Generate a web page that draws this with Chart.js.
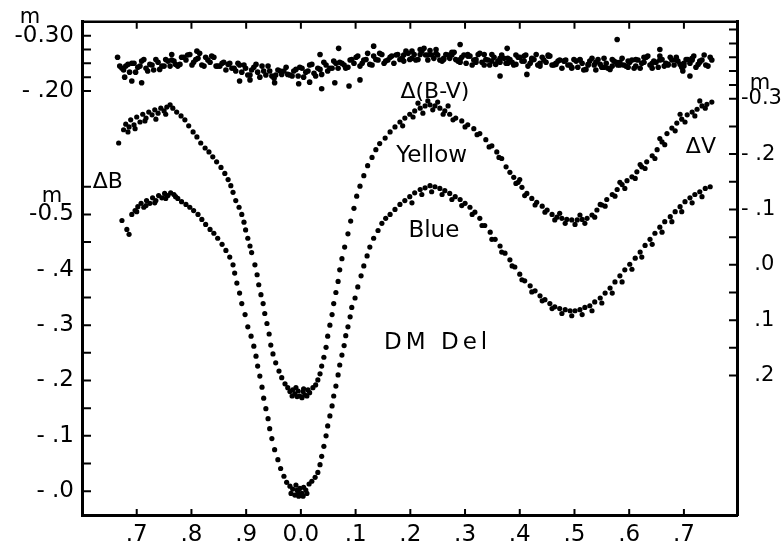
<!DOCTYPE html>
<html>
<head>
<meta charset="utf-8">
<title>DM Del</title>
<script src="https://cdn.jsdelivr.net/npm/chart.js@4.4.0/dist/chart.umd.min.js"></script>
<style>
  html, body { margin: 0; padding: 0; background: #fff; }
  #wrap { width: 783px; height: 550px; position: relative; }
</style>
</head>
<body>
<div id="wrap"><canvas id="lc"></canvas></div>
<script>
const FONT = "'DejaVu Sans', 'Liberation Sans', sans-serif";

// phase axis (values below 0 are labelled .7 .8 .9)
const phaseRange = [-0.4, 0.797];
const phaseTicks = [-0.3, -0.2, -0.1, 0, 0.1, 0.2, 0.3, 0.4, 0.5, 0.6, 0.7];
const phaseLabels = ['.7', '.8', '.9', '0.0', '.1', '.2', '.3', '.4', '.5', '.6', '.7'];

// left axis : delta B
const bRange = [-0.848, 0.043];
const bTicks = [0, -0.05, -0.1, -0.15, -0.2, -0.25, -0.3, -0.35, -0.4, -0.45, -0.5, -0.55];
const bLabels = ['- .0', '', '- .1', '', '- .2', '', '- .3', '', '- .4', '', '-0.5', ''];

// delta (B-V), ticks shown on the upper part of the left axis
const bvRange = [-0.325, 0.566];
const bvTicks = [-0.30, -0.275, -0.25, -0.225, -0.20];
const bvLabels = ['-0.30', '', '', '', '- .20'];

// right axis : delta V
const vRange = [-0.439, 0.452];
const vTicks = [-0.425, -0.4, -0.375, -0.35, -0.325, -0.3, -0.25, -0.2, -0.15, -0.1, -0.05, 0, 0.05, 0.1, 0.15, 0.2];
const vLabels = ['', '', '', '', '', '-0.3', '', '- .2', '', '- .1', '', '  .0', '', '  .1', '', '  .2'];

// [phase, delta V]
const yellowPoints = [
  [-0.333,-0.220],[-0.324,-0.244],[-0.320,-0.254],[-0.314,-0.249],[-0.311,-0.262],[-0.305,-0.253],[-0.300,-0.267],[-0.294,-0.258],
  [-0.289,-0.272],[-0.283,-0.265],[-0.278,-0.276],[-0.272,-0.271],[-0.267,-0.280],[-0.261,-0.274],[-0.256,-0.283],[-0.250,-0.278],
  [-0.245,-0.285],[-0.239,-0.289],[-0.234,-0.283],[-0.227,-0.276],[-0.219,-0.269],[-0.212,-0.262],[-0.205,-0.251],[-0.197,-0.240],
  [-0.190,-0.231],[-0.183,-0.220],[-0.175,-0.211],[-0.168,-0.204],[-0.161,-0.195],[-0.154,-0.186],[-0.146,-0.176],[-0.139,-0.165],
  [-0.133,-0.154],[-0.128,-0.143],[-0.124,-0.131],[-0.119,-0.116],[-0.113,-0.104],[-0.108,-0.091],[-0.104,-0.077],[-0.101,-0.063],
  [-0.097,-0.048],[-0.093,-0.034],[-0.090,-0.022],[-0.084,0.000],[-0.080,0.018],[-0.077,0.036],[-0.073,0.054],[-0.069,0.070],
  [-0.066,0.088],[-0.062,0.106],[-0.058,0.125],[-0.055,0.145],[-0.051,0.161],[-0.046,0.177],[-0.040,0.192],[-0.035,0.204],
  [-0.029,0.215],[-0.024,0.222],[-0.020,0.229],[-0.015,0.226],[-0.011,0.233],[-0.005,0.228],[-0.002,0.237],[0.004,0.229],
  [0.007,0.235],[0.013,0.226],[0.016,0.231],[0.022,0.222],[0.027,0.217],[0.031,0.208],[0.035,0.197],[0.038,0.183],
  [0.042,0.167],[0.046,0.149],[0.049,0.129],[0.053,0.109],[0.057,0.090],[0.060,0.070],[0.064,0.050],[0.068,0.030],
  [0.071,0.009],[0.075,-0.011],[0.080,-0.032],[0.086,-0.056],[0.091,-0.079],[0.097,-0.102],[0.102,-0.124],[0.108,-0.142],
  [0.115,-0.161],[0.122,-0.179],[0.130,-0.194],[0.137,-0.208],[0.144,-0.219],[0.154,-0.229],[0.163,-0.240],[0.172,-0.249],
  [0.181,-0.258],[0.190,-0.265],[0.199,-0.272],[0.208,-0.278],[0.218,-0.283],[0.227,-0.287],[0.236,-0.289],[0.245,-0.287],
  [0.254,-0.283],[0.263,-0.278],[0.272,-0.272],[0.283,-0.265],[0.294,-0.260],[0.305,-0.253],[0.316,-0.246],[0.327,-0.237],
  [0.338,-0.226],[0.349,-0.215],[0.358,-0.204],[0.367,-0.192],[0.375,-0.177],[0.382,-0.167],[0.389,-0.158],[0.397,-0.149],
  [0.404,-0.140],[0.413,-0.129],[0.422,-0.120],[0.431,-0.113],[0.441,-0.106],[0.450,-0.099],[0.459,-0.091],[0.468,-0.086],
  [0.477,-0.084],[0.486,-0.082],[0.495,-0.081],[0.505,-0.081],[0.514,-0.082],[0.523,-0.084],[0.532,-0.090],[0.541,-0.099],
  [0.550,-0.108],[0.559,-0.118],[0.569,-0.127],[0.578,-0.136],[0.587,-0.145],[0.596,-0.152],[0.605,-0.159],[0.614,-0.168],
  [0.623,-0.177],[0.632,-0.186],[0.642,-0.197],[0.651,-0.208],[0.660,-0.222],[0.669,-0.237],[0.678,-0.247],[0.687,-0.256],
  [0.696,-0.263],[0.706,-0.271],[0.715,-0.276],[0.724,-0.281],[0.733,-0.287],[0.742,-0.290],[0.751,-0.294],
  [0.186,-0.251],[0.205,-0.267],[0.223,-0.274],[0.241,-0.280],[0.260,-0.272],[0.278,-0.262],[0.300,-0.249],[0.322,-0.235],
  [0.344,-0.213],[0.362,-0.194],[0.393,-0.147],[0.409,-0.125],[0.428,-0.108],[0.446,-0.095],[0.464,-0.081],[0.483,-0.075],
  [0.501,-0.073],[0.519,-0.075],[0.537,-0.086],[0.556,-0.106],[0.574,-0.124],[0.592,-0.138],[0.611,-0.156],[0.629,-0.174],
  [0.647,-0.192],[0.665,-0.217],[0.684,-0.242],[0.702,-0.258],[0.720,-0.269],[0.739,-0.283],[0.214,-0.292],[0.232,-0.296],
  [0.250,-0.294],[0.269,-0.287],[0.400,-0.154],[0.473,-0.093],[0.510,-0.090],[0.547,-0.109],[0.583,-0.149],[0.620,-0.181],
  [0.656,-0.228],[0.693,-0.272],[0.729,-0.296],[-0.016,0.237],[-0.007,0.238],[0.002,0.240],[0.011,0.237],[-0.009,0.222],
  [0.005,0.224],[-0.316,-0.240],[-0.303,-0.246],[-0.285,-0.260],[-0.265,-0.263],[-0.247,-0.272]
];

// [phase, delta B]
const bluePoints = [
  [-0.327,-0.489],[-0.318,-0.473],[-0.314,-0.464],[-0.309,-0.500],[-0.303,-0.507],[-0.298,-0.514],[-0.292,-0.520],[-0.287,-0.513],
  [-0.282,-0.525],[-0.276,-0.520],[-0.271,-0.530],[-0.265,-0.525],[-0.260,-0.534],[-0.254,-0.530],[-0.249,-0.538],[-0.243,-0.534],
  [-0.238,-0.539],[-0.232,-0.536],[-0.225,-0.529],[-0.218,-0.523],[-0.210,-0.518],[-0.203,-0.513],[-0.196,-0.507],[-0.188,-0.500],
  [-0.181,-0.491],[-0.174,-0.482],[-0.166,-0.473],[-0.159,-0.466],[-0.152,-0.457],[-0.144,-0.446],[-0.137,-0.435],[-0.130,-0.423],
  [-0.124,-0.409],[-0.121,-0.394],[-0.117,-0.376],[-0.112,-0.358],[-0.108,-0.339],[-0.102,-0.319],[-0.097,-0.297],[-0.091,-0.280],
  [-0.086,-0.262],[-0.082,-0.244],[-0.079,-0.226],[-0.075,-0.208],[-0.071,-0.188],[-0.068,-0.168],[-0.064,-0.149],[-0.060,-0.131],
  [-0.057,-0.113],[-0.053,-0.095],[-0.048,-0.075],[-0.042,-0.057],[-0.037,-0.041],[-0.031,-0.027],[-0.026,-0.016],[-0.020,-0.009],
  [-0.015,-0.004],[-0.009,-0.011],[-0.005,0.002],[-0.002,-0.005],[0.002,0.004],[0.005,-0.007],[0.009,-0.002],[0.015,-0.013],
  [0.020,-0.018],[0.026,-0.025],[0.031,-0.034],[0.035,-0.048],[0.038,-0.063],[0.042,-0.081],[0.046,-0.100],[0.049,-0.118],
  [0.053,-0.136],[0.057,-0.154],[0.060,-0.172],[0.064,-0.190],[0.068,-0.210],[0.071,-0.228],[0.075,-0.246],[0.079,-0.263],
  [0.082,-0.281],[0.086,-0.297],[0.090,-0.315],[0.093,-0.332],[0.099,-0.349],[0.104,-0.369],[0.110,-0.389],[0.115,-0.407],
  [0.121,-0.425],[0.126,-0.441],[0.133,-0.457],[0.141,-0.471],[0.148,-0.484],[0.155,-0.493],[0.163,-0.500],[0.172,-0.509],
  [0.181,-0.518],[0.190,-0.525],[0.199,-0.532],[0.208,-0.539],[0.218,-0.545],[0.227,-0.548],[0.236,-0.552],[0.245,-0.550],
  [0.254,-0.547],[0.263,-0.543],[0.272,-0.538],[0.282,-0.532],[0.291,-0.527],[0.300,-0.520],[0.309,-0.513],[0.318,-0.504],
  [0.327,-0.493],[0.336,-0.480],[0.346,-0.468],[0.355,-0.455],[0.364,-0.443],[0.373,-0.430],[0.382,-0.418],[0.391,-0.405],
  [0.400,-0.392],[0.409,-0.380],[0.419,-0.371],[0.428,-0.362],[0.437,-0.353],[0.446,-0.346],[0.455,-0.339],[0.464,-0.333],
  [0.473,-0.330],[0.483,-0.328],[0.492,-0.326],[0.501,-0.326],[0.510,-0.328],[0.519,-0.332],[0.528,-0.335],[0.537,-0.342],
  [0.547,-0.349],[0.556,-0.358],[0.565,-0.367],[0.574,-0.378],[0.583,-0.389],[0.592,-0.400],[0.601,-0.410],[0.611,-0.421],
  [0.620,-0.432],[0.629,-0.444],[0.638,-0.455],[0.647,-0.466],[0.656,-0.477],[0.665,-0.487],[0.675,-0.496],[0.684,-0.505],
  [0.693,-0.514],[0.702,-0.523],[0.711,-0.530],[0.720,-0.536],[0.729,-0.541],[0.739,-0.547],[0.748,-0.550],
  [0.203,-0.521],[0.221,-0.536],[0.239,-0.541],[0.258,-0.536],[0.276,-0.527],[0.294,-0.516],[0.313,-0.500],[0.331,-0.480],
  [0.349,-0.455],[0.367,-0.432],[0.386,-0.407],[0.404,-0.382],[0.422,-0.360],[0.441,-0.344],[0.459,-0.330],[0.477,-0.321],
  [0.495,-0.317],[0.514,-0.319],[0.532,-0.326],[0.550,-0.340],[0.569,-0.358],[0.587,-0.378],[0.605,-0.401],[0.623,-0.423],
  [0.642,-0.446],[0.660,-0.468],[0.678,-0.487],[0.696,-0.505],[0.715,-0.521],[0.733,-0.532],[-0.018,0.004],[-0.011,0.007],
  [-0.004,0.009],[0.004,0.009],[0.011,0.004],[-0.007,-0.002],[-0.300,-0.505],[-0.283,-0.516],[-0.267,-0.521],[-0.247,-0.529],
  [-0.229,-0.532]
];

// [phase, delta (B-V)]
const bvPoints = [
  [-0.335,-0.261],[-0.327,-0.241],[-0.320,-0.245],[-0.313,-0.234],[-0.305,-0.250],[-0.298,-0.243],[-0.291,-0.254],[-0.283,-0.241],
  [-0.276,-0.248],[-0.269,-0.238],[-0.261,-0.252],[-0.254,-0.245],[-0.247,-0.257],[-0.239,-0.245],[-0.232,-0.254],[-0.225,-0.245],
  [-0.218,-0.261],[-0.210,-0.256],[-0.203,-0.266],[-0.196,-0.252],[-0.188,-0.259],[-0.181,-0.247],[-0.174,-0.261],[-0.166,-0.252],
  [-0.159,-0.261],[-0.152,-0.245],[-0.144,-0.250],[-0.137,-0.238],[-0.130,-0.250],[-0.122,-0.241],[-0.115,-0.250],[-0.108,-0.234],
  [-0.101,-0.241],[-0.093,-0.229],[-0.086,-0.243],[-0.079,-0.234],[-0.071,-0.245],[-0.064,-0.229],[-0.057,-0.236],[-0.049,-0.223],
  [-0.042,-0.238],[-0.035,-0.230],[-0.027,-0.243],[-0.020,-0.229],[-0.013,-0.236],[-0.005,-0.227],[0.002,-0.241],[0.009,-0.234],
  [0.016,-0.247],[0.024,-0.232],[0.031,-0.241],[0.038,-0.230],[0.046,-0.247],[0.053,-0.241],[0.060,-0.254],[0.068,-0.241],
  [0.075,-0.250],[0.082,-0.241],[0.090,-0.256],[0.097,-0.250],[0.104,-0.263],[0.112,-0.250],[0.119,-0.257],[0.126,-0.248],
  [0.133,-0.263],[0.141,-0.256],[0.148,-0.266],[0.155,-0.254],[0.163,-0.261],[0.170,-0.250],[0.177,-0.266],[0.185,-0.259],
  [0.192,-0.272],[0.199,-0.257],[0.207,-0.266],[0.214,-0.257],[0.221,-0.272],[0.228,-0.265],[0.236,-0.273],[0.243,-0.259],
  [0.250,-0.265],[0.258,-0.254],[0.265,-0.266],[0.272,-0.259],[0.280,-0.270],[0.287,-0.254],[0.294,-0.261],[0.302,-0.250],
  [0.309,-0.263],[0.316,-0.256],[0.324,-0.266],[0.331,-0.252],[0.338,-0.257],[0.345,-0.247],[0.353,-0.261],[0.360,-0.254],
  [0.367,-0.265],[0.375,-0.250],[0.382,-0.257],[0.389,-0.247],[0.397,-0.261],[0.404,-0.254],[0.411,-0.265],[0.419,-0.250],
  [0.426,-0.257],[0.433,-0.247],[0.441,-0.261],[0.448,-0.252],[0.455,-0.263],[0.462,-0.247],[0.470,-0.254],[0.477,-0.241],
  [0.484,-0.256],[0.492,-0.247],[0.499,-0.257],[0.506,-0.243],[0.514,-0.250],[0.521,-0.239],[0.528,-0.254],[0.536,-0.247],
  [0.543,-0.257],[0.550,-0.243],[0.558,-0.250],[0.565,-0.239],[0.572,-0.254],[0.579,-0.247],[0.587,-0.259],[0.594,-0.245],
  [0.601,-0.252],[0.609,-0.241],[0.616,-0.256],[0.623,-0.250],[0.631,-0.261],[0.638,-0.247],[0.645,-0.254],[0.653,-0.243],
  [0.660,-0.257],[0.667,-0.250],[0.675,-0.261],[0.682,-0.247],[0.689,-0.254],[0.696,-0.243],[0.704,-0.257],[0.711,-0.250],
  [0.718,-0.263],[0.726,-0.248],[0.733,-0.256],[0.740,-0.247],[0.748,-0.261],
  [-0.331,-0.245],[-0.316,-0.248],[-0.302,-0.234],[-0.287,-0.257],[-0.272,-0.247],[-0.258,-0.239],[-0.243,-0.254],[-0.229,-0.248],
  [-0.214,-0.261],[-0.199,-0.247],[-0.185,-0.268],[-0.170,-0.256],[-0.155,-0.245],[-0.141,-0.252],[-0.126,-0.241],[-0.112,-0.247],
  [-0.097,-0.229],[-0.082,-0.248],[-0.068,-0.236],[-0.053,-0.227],[-0.038,-0.236],[-0.024,-0.230],[-0.009,-0.239],[0.005,-0.225],
  [0.020,-0.248],[0.035,-0.239],[0.049,-0.236],[0.064,-0.250],[0.079,-0.247],[0.093,-0.257],[0.108,-0.245],[0.122,-0.268],
  [0.137,-0.257],[0.152,-0.250],[0.166,-0.263],[0.181,-0.257],[0.196,-0.268],[0.210,-0.256],[0.225,-0.277],[0.239,-0.265],
  [0.254,-0.256],[0.269,-0.265],[0.283,-0.257],[0.298,-0.265],[0.313,-0.247],[0.327,-0.268],[0.342,-0.256],[0.356,-0.248],
  [0.371,-0.259],[0.386,-0.252],[0.400,-0.261],[0.415,-0.245],[0.430,-0.266],[0.444,-0.256],[0.459,-0.247],[0.473,-0.256],
  [0.488,-0.247],[0.503,-0.254],[0.517,-0.238],[0.532,-0.259],[0.547,-0.248],[0.561,-0.241],[0.576,-0.252],[0.590,-0.247],
  [0.605,-0.256],[0.620,-0.241],[0.634,-0.263],[0.649,-0.252],[0.664,-0.245],[0.678,-0.256],[0.693,-0.248],[0.707,-0.257],
  [0.722,-0.243],[0.737,-0.265],[0.751,-0.256],
  [0.188,-0.265],[0.203,-0.259],[0.218,-0.275],[0.232,-0.265],[0.247,-0.268],[0.261,-0.257],[0.276,-0.270],[0.291,-0.257],
  [0.305,-0.263],[0.320,-0.252],[0.335,-0.266],[0.349,-0.254],[0.364,-0.259],[0.378,-0.250],[0.393,-0.265],[0.408,-0.254],
  [0.422,-0.259],[0.437,-0.250],[0.452,-0.263],[0.466,-0.250],[0.481,-0.254],[0.495,-0.243],[0.510,-0.257],[0.525,-0.247],
  [0.539,-0.252],[0.554,-0.243],[0.569,-0.257],[0.583,-0.247],[0.598,-0.254],[0.612,-0.245],[0.627,-0.261],[0.642,-0.250],
  [0.656,-0.256],[0.671,-0.247],[0.686,-0.261],[0.700,-0.250],[0.715,-0.256],[0.729,-0.252],
  [-0.324,-0.238],[-0.309,-0.250],[-0.294,-0.245],[-0.280,-0.236],[-0.265,-0.257],[-0.250,-0.245],[-0.236,-0.256],[-0.221,-0.248],
  [-0.207,-0.265],[-0.192,-0.257],[-0.177,-0.245],[-0.163,-0.263],[-0.148,-0.245],[-0.133,-0.248],[-0.119,-0.236],[-0.104,-0.247],
  [-0.090,-0.238],[-0.075,-0.225],[-0.060,-0.245],[-0.046,-0.229],[-0.031,-0.236],[-0.016,-0.227],[-0.002,-0.243],[0.013,-0.236],
  [0.027,-0.227],[0.042,-0.252],[0.057,-0.241],[0.071,-0.252],[0.086,-0.243],[0.101,-0.261],[0.115,-0.256],[0.130,-0.247],
  [0.144,-0.268],[0.159,-0.256],[0.174,-0.265],[0.188,-0.254],[0.203,-0.272],[0.218,-0.266],[0.232,-0.256],[0.247,-0.275],
  [0.261,-0.259],[0.276,-0.265],[0.291,-0.252],[0.305,-0.266],[0.320,-0.257],[0.335,-0.247],[0.349,-0.266],[0.364,-0.252],
  [0.378,-0.259],[0.393,-0.248],[0.408,-0.263],[0.422,-0.256],[0.437,-0.245],[0.452,-0.265],[0.466,-0.248],[0.481,-0.254],
  [0.495,-0.241],[0.510,-0.256],[0.525,-0.248],[0.539,-0.238],[0.554,-0.259],[0.569,-0.245],[0.583,-0.252],[0.598,-0.243],
  [0.612,-0.257],[0.627,-0.252],[0.642,-0.241],[0.656,-0.263],[0.671,-0.248],[0.686,-0.256],[0.700,-0.245],[0.715,-0.259],
  [0.729,-0.254],[0.744,-0.245],
  [-0.291,-0.215],[-0.309,-0.218],[-0.322,-0.225],[-0.048,-0.215],[-0.004,-0.213],[0.038,-0.204],[0.062,-0.215],[0.088,-0.209],
  [0.016,-0.216],[0.069,-0.277],[0.133,-0.281],[0.035,-0.266],[-0.190,-0.272],[-0.236,-0.266],[0.578,-0.293],[0.656,-0.275],
  [0.291,-0.284],[0.377,-0.277],[0.711,-0.227],[0.698,-0.236],[0.413,-0.230],[0.364,-0.227],[-0.112,-0.218],[-0.093,-0.220],
  [0.108,-0.220]
];

// text on the plot: position in phase / delta-B units
const notes = [
  { text: 'Δ(B-V)', x: 0.245, y: -0.710, size: 22, spacing: 0 },
  { text: 'Yellow', x: 0.239, y: -0.595, size: 23, spacing: 0 },
  { text: 'Blue', x: 0.243, y: -0.459, size: 23, spacing: 0 },
  { text: 'DM Del', x: 0.250, y: -0.256, size: 23, spacing: 4 },
  { text: 'ΔV', x: 0.731, y: -0.611, size: 22, spacing: 0 },
  { text: 'ΔB', x: -0.353, y: -0.548, size: 22, spacing: 0 },
  { text: 'm', x: -0.495, y: -0.846, size: 21, spacing: 0 },
  { text: 'm', x: -0.455, y: -0.523, size: 21, spacing: 0 },
  { text: 'm', x: 0.839, y: -0.726, size: 21, spacing: 0 }
];

const toXY = (pts) => pts.map((p) => ({ x: p[0], y: p[1] }));

// B-V ticks are drawn on the delta B axis, shifted by the axis offset
const bvShift = bvRange[0] - bRange[0];
const leftTicks = bTicks
  .map((v, i) => ({ value: v, lbl: bLabels[i] }))
  .concat(bvTicks.map((v, i) => ({ value: v - bvShift, lbl: bvLabels[i] })));

// inward tick marks + top frame line + the texts
const frameTicks = {
  id: 'frameTicks',
  afterDraw(chart) {
    const { ctx, chartArea: a, scales } = chart;
    ctx.save();
    ctx.strokeStyle = '#000';
    ctx.lineWidth = 2.5;
    ctx.beginPath();
    ctx.moveTo(a.left - 1, a.top);
    ctx.lineTo(a.right + 1, a.top);
    ctx.stroke();
    ctx.lineWidth = 2;
    ctx.beginPath();
    scales.x.ticks.forEach((t) => {
      const px = scales.x.getPixelForValue(t.value);
      ctx.moveTo(px, a.bottom);
      ctx.lineTo(px, a.bottom - 6);
      ctx.moveTo(px, a.top);
      ctx.lineTo(px, a.top + 7);
    });
    scales.yB.ticks.forEach((t) => {
      const py = scales.yB.getPixelForValue(t.value);
      ctx.moveTo(a.left, py);
      ctx.lineTo(a.left + 9, py);
    });
    scales.yV.ticks.forEach((t) => {
      const py = scales.yV.getPixelForValue(t.value);
      ctx.moveTo(a.right, py);
      ctx.lineTo(a.right - 8, py);
    });
    ctx.stroke();

    ctx.fillStyle = '#000';
    ctx.textAlign = 'center';
    ctx.textBaseline = 'alphabetic';
    notes.forEach((n) => {
      ctx.font = n.size + 'px ' + FONT;
      ctx.letterSpacing = n.spacing + 'px';
      ctx.fillText(n.text, scales.x.getPixelForValue(n.x), scales.yB.getPixelForValue(n.y));
    });
    ctx.restore();
  },
};

const tickFont = { family: FONT, size: 23 };
const dotStyle = (r) => ({
  pointRadius: r,
  pointHoverRadius: r,
  pointBorderWidth: 0,
  pointBackgroundColor: '#000',
  showLine: false,
});

new Chart(document.getElementById('lc'), {
  type: 'scatter',
  data: {
    datasets: [
      { label: 'Δ(B-V)', data: toXY(bvPoints), yAxisID: 'yBV', ...dotStyle(2.8) },
      { label: 'Yellow', data: toXY(yellowPoints), yAxisID: 'yV', ...dotStyle(2.6) },
      { label: 'Blue', data: toXY(bluePoints), yAxisID: 'yB', ...dotStyle(2.6) },
    ],
  },
  options: {
    responsive: true,
    maintainAspectRatio: false,
    animation: false,
    events: [],
    layout: { padding: { top: 19, left: 0, right: 0, bottom: 0 } },
    plugins: { legend: { display: false }, tooltip: { enabled: false } },
    scales: {
      x: {
        type: 'linear',
        min: phaseRange[0],
        max: phaseRange[1],
        afterBuildTicks: (s) => { s.ticks = phaseTicks.map((v) => ({ value: v })); },
        afterFit: (s) => { s.height = 35; },
        grid: { display: false, drawTicks: false },
        border: { display: true, width: 3, color: '#000' },
        ticks: {
          color: '#000',
          font: tickFont,
          padding: 6,
          maxRotation: 0,
          autoSkip: false,
          callback: (v, i) => phaseLabels[i],
        },
      },
      yB: {
        type: 'linear',
        position: 'left',
        reverse: true,
        min: bRange[0],
        max: bRange[1],
        afterBuildTicks: (s) => { s.ticks = leftTicks.map((t) => ({ value: t.value, lbl: t.lbl })); },
        afterFit: (s) => { s.width = 82; },
        grid: { display: false, drawTicks: false },
        border: { display: true, width: 3, color: '#000' },
        ticks: {
          color: '#000',
          font: tickFont,
          padding: 8,
          autoSkip: false,
          callback: (v, i, ticks) => ticks[i].lbl,
        },
      },
      yBV: {
        type: 'linear',
        display: false,
        reverse: true,
        min: bvRange[0],
        max: bvRange[1],
      },
      yV: {
        type: 'linear',
        position: 'right',
        reverse: true,
        min: vRange[0],
        max: vRange[1],
        afterBuildTicks: (s) => { s.ticks = vTicks.map((v) => ({ value: v })); },
        afterFit: (s) => { s.width = 46; },
        grid: { display: false, drawTicks: false },
        border: { display: true, width: 3, color: '#000' },
        ticks: {
          color: '#000',
          font: { family: FONT, size: 21 },
          padding: 4,
          autoSkip: false,
          callback: (v, i) => vLabels[i],
        },
      },
    },
  },
  plugins: [frameTicks],
});
</script>
</body>
</html>
